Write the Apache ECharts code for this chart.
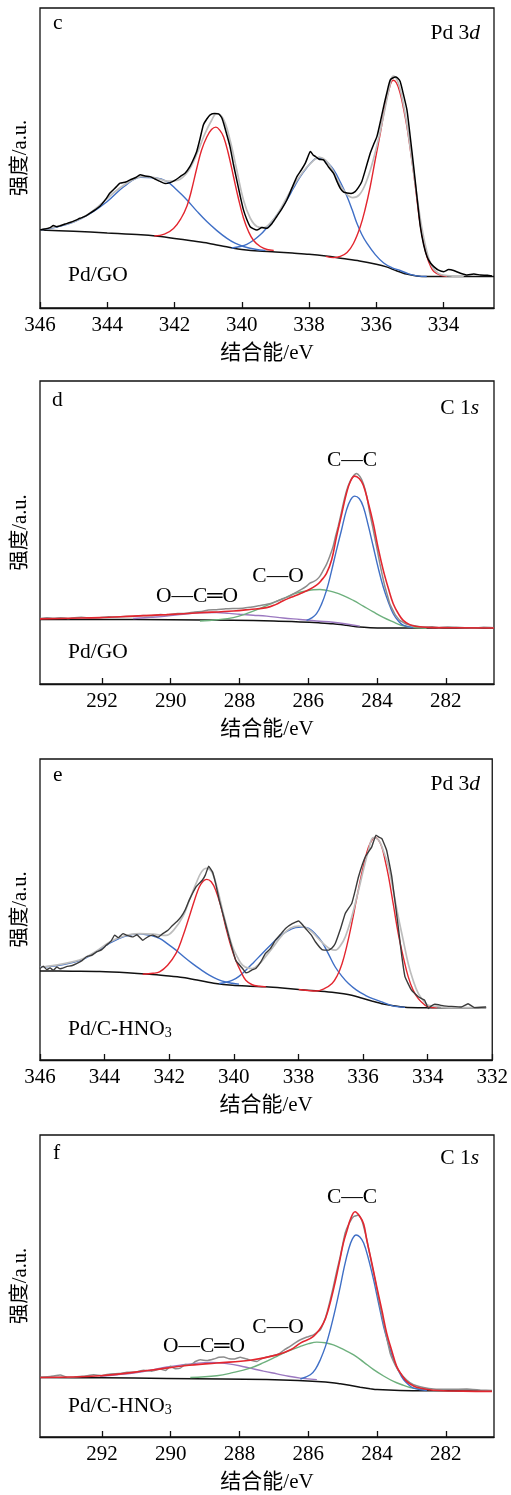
<!DOCTYPE html>
<html>
<head>
<meta charset="utf-8">
<script src="https://cdn.jsdelivr.net/npm/echarts@6/dist/echarts.min.js"></script>
<style>html,body{margin:0;padding:0;background:#fff}#chart{width:511px;height:1495px}</style>
</head>
<body>
<div id="chart"></div>
<script>
// ---------- tick labels ----------
const pdTicksC = [334, 336, 338, 340, 342, 344, 346];
const pdTicksE = [332, 334, 336, 338, 340, 342, 344, 346];
const cTicks = [282, 284, 286, 288, 290, 292];

// ---------- panel c: Pd/GO, Pd 3d ----------
const cRaw = [[346,26.0],[345.85,26.3],[345.7,26.8],[345.6,27.5],[345.5,27.1],[345.4,27.4],[345.25,28.0],[345.11,28.5],[344.95,29.2],[344.81,29.9],[344.65,30.6],[344.51,31.6],[344.35,32.8],[344.21,34.0],[344.05,36.2],[343.92,38.3],[343.75,40.2],[343.62,41.6],[343.45,42.0],[343.32,42.7],[343.15,43.5],[343.02,44.4],[342.88,44.0],[342.73,43.8],[342.58,43.0],[342.43,42.2],[342.28,41.5],[342.13,41.8],[341.98,42.6],[341.83,43.8],[341.68,45.0],[341.54,47.2],[341.44,49.5],[341.34,52.2],[341.24,56.5],[341.14,61.1],[341.04,63.0],[340.94,64.4],[340.8,64.8],[340.69,64.7],[340.6,63.5],[340.54,61.6],[340.45,58.0],[340.35,53.8],[340.25,48.0],[340.15,42.7],[340.05,37.5],[339.95,32.7],[339.85,29.5],[339.75,27.1],[339.65,26.4],[339.55,26.0],[339.4,26.8],[339.25,26.6],[339.1,28.2],[338.96,30.5],[338.8,33.2],[338.66,36.0],[338.5,40.2],[338.36,43.8],[338.23,46.0],[338.11,48.3],[338.03,50.5],[337.96,52.2],[337.88,51.0],[337.81,50.5],[337.7,49.6],[337.57,49.4],[337.42,47.0],[337.27,44.9],[337.17,42.2],[337.07,39.9],[336.97,38.6],[336.87,38.3],[336.75,38.2],[336.63,38.8],[336.53,40.2],[336.43,42.2],[336.3,47.0],[336.18,51.6],[336.08,54.5],[335.98,57.2],[335.88,62.0],[335.78,67.2],[335.68,72.0],[335.58,76.1],[335.43,77.0],[335.36,76.6],[335.29,75.5],[335.2,71.5],[335.09,66.1],[334.99,57.0],[334.89,47.2],[334.79,37.0],[334.69,27.1],[334.59,21.0],[334.49,17.1],[334.39,15.0],[334.29,13.8],[334.15,12.6],[333.99,12.1],[333.85,12.8],[333.7,12.5],[333.5,11.6],[333.3,11.0],[333.1,11.3],[332.9,11.0],[332.7,10.9],[332.56,10.7]];
const cEnv = [[346,26.0],[345.5,27.2],[345,28.8],[344.6,31.0],[344.2,34.5],[343.8,38.5],[343.5,41.0],[343.2,43.0],[343.0,43.8],[342.6,43.5],[342.2,42.3],[341.9,42.6],[341.6,45.5],[341.35,51],[341.1,58],[340.9,62.5],[340.75,64.8],[340.55,63],[340.35,56],[340.15,46],[339.95,36],[339.75,30],[339.55,27.2],[339.35,26.8],[339.1,29],[338.9,32],[338.7,36],[338.5,40],[338.3,43.5],[338.1,46.5],[337.9,48.8],[337.7,50.3],[337.5,49.2],[337.3,46],[337.1,41.5],[336.9,38.2],[336.7,36.8],[336.5,37.8],[336.3,42],[336.1,49],[335.9,58],[335.75,66],[335.6,74],[335.5,77.3],[335.38,76],[335.25,71],[335.1,62],[334.95,50],[334.8,38],[334.65,27],[334.5,19],[334.35,14],[334.15,11.5],[333.9,10.8],[333.4,10.5]];
const cRed1 = [[342.6,24.0],[342.3,24.6],[342.03,26.5],[341.8,30.0],[341.63,34.0],[341.5,39],[341.34,46.5],[341.2,52.5],[341.04,57.0],[340.9,59.5],[340.77,60.3],[340.65,59.2],[340.54,57.0],[340.4,51.5],[340.25,44.0],[340.1,36.5],[339.95,30.0],[339.8,25.5],[339.65,22.5],[339.45,20.5],[339.25,19.5],[339.05,19.2]];
const cRed2 = [[337.5,17.2],[337.27,16.8],[337.07,17.2],[336.87,18.5],[336.68,21.5],[336.48,27.0],[336.33,33.0],[336.18,40.5],[336.03,49.5],[335.88,58.3],[335.75,66.5],[335.63,72.5],[335.50,75.9],[335.4,75.0],[335.29,71.6],[335.19,66.5],[335.09,60.5],[334.99,53.0],[334.89,45.0],[334.79,36.0],[334.69,27.5],[334.59,21.5],[334.49,17.0],[334.39,14.0],[334.29,12.2],[334.1,11.0],[333.9,10.6]];
const cBlue1 = [[346,26.0],[345.5,27.0],[345,28.6],[344.5,31.5],[344,35.5],[343.5,40.5],[343.0,43.6],[342.6,43.4],[342.23,42.2],[341.93,39.3],[341.63,36.0],[341.33,32.2],[341.04,28.8],[340.74,25.8],[340.44,23.2],[340.2,21.6],[339.95,20.5],[339.6,19.6],[339.3,19.2]];
const cBlue2 = [[340.3,20.0],[340.05,20.5],[339.85,21.2],[339.65,22.6],[339.45,24.4],[339.25,26.8],[339.06,29.4],[338.86,32.5],[338.66,36.0],[338.46,40.0],[338.26,43.8],[338.05,47.0],[337.9,48.9],[337.77,49.9],[337.6,49.6],[337.45,48.5],[337.27,46.1],[337.07,42.0],[336.87,37.2],[336.72,32.8],[336.58,28.3],[336.43,24.5],[336.28,21.6],[336.03,17.8],[335.78,15.0],[335.53,13.4],[335.29,12.5],[335.04,11.4],[334.79,10.7],[334.5,10.5]];
const cBg = [[346,26.0],[345,25.6],[344,25.0],[343,24.4],[342.5,23.9],[342,23.2],[341.5,22.4],[341,21.6],[340.5,20.5],[340.2,19.8],[340,19.5],[339.5,19.0],[339,18.7],[338.5,18.3],[338,17.9],[337.5,17.3],[337,16.5],[336.5,15.7],[336,14.6],[335.7,13.7],[335.4,12.4],[335.1,11.3],[334.8,10.7],[334.5,10.5],[333.5,10.5],[332.5,10.5]];

// ---------- panel d: Pd/GO, C 1s ----------
const dRaw = [[293.8,21.6],[293.6,21.9],[293.4,21.7],[293.2,21.9],[293.0,21.6],[292.8,21.9],[292.6,22.0],[292.3,21.8],[292.06,21.9],[291.8,22.2],[291.6,22.1],[291.3,22.3],[291.1,22.3],[290.8,22.6],[290.6,22.5],[290.3,22.9],[290.12,22.8],[289.8,23.3],[289.6,23.3],[289.3,23.8],[289.1,23.9],[288.9,24.4],[288.67,24.5],[288.4,24.8],[288.2,24.9],[287.9,25.0],[287.7,25.3],[287.45,25.8],[287.2,26.3],[286.95,27.2],[286.73,28.2],[286.55,29.0],[286.4,30.0],[286.2,31.2],[286.05,32.3],[285.95,33.3],[285.85,33.8],[285.75,34.5],[285.66,35.6],[285.57,37.4],[285.47,39.5],[285.38,42.0],[285.28,45.3],[285.2,49],[285.13,52],[285.05,56],[284.98,59.6],[284.88,64],[284.79,66.7],[284.7,68.5],[284.6,69.5],[284.5,68.5],[284.4,66.2],[284.3,62],[284.21,56.3],[284.13,52],[284.06,48],[283.99,44],[283.92,39.8],[283.85,36],[283.78,32.5],[283.7,29.3],[283.63,26.5],[283.55,24.6],[283.48,23],[283.4,21.8],[283.34,21.0],[283.25,20.4],[283.15,19.8],[283.05,19.5],[282.95,19.3],[282.8,19.0],[282.6,18.8],[282.4,18.9],[282.2,18.6],[281.95,18.8],[281.7,18.7],[281.45,18.6],[281.2,18.5],[280.9,18.7],[280.6,18.6]];
const dEnv = [[293.8,21.5],[292.9,21.7],[292.06,21.9],[291.1,22.4],[290.12,22.9],[289.15,23.5],[288.18,24.1],[287.7,24.6],[287.21,25.2],[286.95,26.2],[286.73,27.5],[286.5,28.6],[286.24,29.8],[286.0,31.0],[285.76,32.6],[285.62,34.2],[285.47,36.5],[285.32,41],[285.18,48.6],[285.03,56],[284.89,62.9],[284.77,67],[284.65,68.6],[284.52,67.8],[284.40,65.6],[284.26,60],[284.11,53.0],[283.97,45],[283.82,37.6],[283.67,31.5],[283.53,26.5],[283.38,23.2],[283.24,21.0],[283.05,19.6],[282.85,19.0],[282.37,18.6],[280.6,18.5]];
const dCC = [[286.05,21.0],[285.9,21.8],[285.76,23.2],[285.62,26.2],[285.47,30.9],[285.33,37.0],[285.18,44.2],[285.03,51.0],[284.89,57.4],[284.77,60.8],[284.65,62.0],[284.52,61.2],[284.40,58.5],[284.26,52.5],[284.11,45.3],[283.97,38.5],[283.82,32.0],[283.67,27.0],[283.53,23.2],[283.38,20.8],[283.24,19.4],[282.95,18.6]];
const dCO = [[289.15,20.8],[288.66,21.2],[288.18,21.9],[287.8,23.2],[287.41,24.9],[287.02,26.8],[286.63,28.7],[286.34,30.0],[286.05,30.7],[285.85,31.1],[285.66,31.2],[285.47,30.9],[285.28,30.4],[284.98,29.2],[284.69,27.6],[284.4,25.7],[284.11,23.8],[283.82,22.0],[283.53,20.5],[283.3,19.4],[283.05,18.8],[282.56,18.4]];
const dOCO = [[291.09,21.6],[290.6,22.0],[290.12,22.4],[289.64,23.0],[289.15,23.5],[288.67,23.6],[288.3,23.3],[287.99,23.0],[287.6,22.7],[287.21,22.4],[286.73,21.8],[286.24,21.3],[285.76,20.8],[285.28,20.4],[284.89,19.8],[284.50,19.1]];
const dBg = [[293.8,21.3],[292,21.3],[290,21.2],[288.18,21.0],[287,20.8],[286.24,20.5],[285.7,20.2],[285.28,19.9],[284.9,19.4],[284.5,18.8],[284.2,18.6],[283.82,18.5],[282.5,18.5],[280.6,18.5]];

// ---------- panel e: Pd/C-HNO3, Pd 3d ----------
const eRaw = [[346,30.4],[345.9,31.2],[345.79,30.0],[345.69,30.6],[345.59,29.8],[345.48,30.9],[345.38,30.3],[345.18,31.0],[345.0,31.4],[344.87,32.0],[344.7,33.0],[344.56,34.3],[344.4,34.8],[344.25,35.9],[344.1,36.6],[343.95,38.1],[343.8,39.5],[343.69,41.5],[343.58,40.6],[343.43,42.0],[343.3,41.4],[343.12,40.9],[343.0,41.6],[342.82,39.8],[342.65,41.0],[342.51,41.5],[342.35,40.8],[342.20,42.0],[342.05,43.0],[341.89,44.8],[341.76,46.0],[341.63,47.6],[341.5,50.0],[341.38,53.1],[341.17,57.5],[340.97,59.8],[340.88,61.5],[340.78,64.4],[340.66,62.5],[340.56,58.5],[340.45,53.1],[340.3,47],[340.15,40.9],[339.94,33.1],[339.73,30.4],[339.63,29.0],[339.53,29.3],[339.42,30.0],[339.32,30.4],[339.17,32.5],[339.02,35.4],[338.87,37.0],[338.71,39.8],[338.55,41.8],[338.40,43.7],[338.19,45.3],[337.99,46.2],[337.88,45.0],[337.78,43.7],[337.6,41.5],[337.47,39.2],[337.27,36.7],[337.06,36.5],[336.96,37.2],[336.86,38.7],[336.7,43.5],[336.55,48.7],[336.35,52.0],[336.25,56.0],[336.14,60.9],[335.93,67.5],[335.73,70.8],[335.6,74.7],[335.5,74.0],[335.42,73.6],[335.27,69.7],[335.11,60.9],[334.91,44.2],[334.8,34.5],[334.70,27.6],[334.50,23.2],[334.29,21.0],[334.09,19.8],[333.98,17.1],[333.88,18.0],[333.78,18.5],[333.5,18.0],[333.26,17.8],[332.96,17.6],[332.75,18.7],[332.55,17.4],[332.19,17.6]];
const eEnv = [[346,30.8],[345.5,31.5],[345,32.6],[344.66,33.7],[344.25,36.2],[343.84,39.2],[343.4,41.2],[342.92,42.0],[342.5,41.8],[342.10,41.4],[341.85,43.3],[341.58,47.6],[341.38,53],[341.17,58.6],[341.0,62.5],[340.85,63.7],[340.66,62.0],[340.5,56.5],[340.35,49.8],[340.2,43.5],[340.04,37.6],[339.88,34.0],[339.73,31.5],[339.55,30.5],[339.43,30.4],[339.2,32.0],[339.02,34.3],[338.75,38.0],[338.50,41.5],[338.25,43.8],[337.99,44.5],[337.78,44.0],[337.58,42.6],[337.37,40.2],[337.17,38.1],[337.0,36.8],[336.86,36.5],[336.7,38.0],[336.55,40.9],[336.35,47.5],[336.14,56.4],[335.98,63.5],[335.83,69.7],[335.68,73.9],[335.52,73.1],[335.37,69.5],[335.21,64.2],[335.06,56],[334.91,47.6],[334.75,39.5],[334.60,32.0],[334.45,26.5],[334.29,22.1],[334.1,19.2],[333.98,18.2],[333.6,17.6],[333.37,17.4],[332.19,17.4]];
const eRed1 = [[342.82,28.5],[342.5,28.8],[342.30,29.3],[342.05,31.5],[341.79,35.4],[341.58,41],[341.38,47.6],[341.22,53],[341.07,57.5],[340.95,59.4],[340.84,60.0],[340.7,59.2],[340.56,56.4],[340.4,51],[340.25,44.2],[340.1,38.2],[339.94,33.1],[339.78,29.3],[339.63,26.5],[339.43,25.0],[339.22,24.5],[339.0,24.3]];
const eRed2 = [[337.99,23.4],[337.7,23.1],[337.47,22.9],[337.2,23.7],[336.96,25.4],[336.8,28.0],[336.65,32.0],[336.5,38.0],[336.35,45.3],[336.2,53.5],[336.04,62.0],[335.93,67.0],[335.83,70.8],[335.73,73.0],[335.65,73.9],[335.53,73.2],[335.42,70.8],[335.32,66.5],[335.21,60.9],[335.06,51.5],[334.91,42.0],[334.75,34.0],[334.60,27.6],[334.45,23.2],[334.29,20.4],[334.1,18.4],[333.98,17.6],[333.7,17.4]];
const eBlue1 = [[346,30.8],[345.5,31.3],[345,32.4],[344.66,33.5],[344.25,36.0],[343.84,38.8],[343.4,41.0],[342.92,41.9],[342.82,41.8],[342.55,41.3],[342.30,40.4],[342.05,38.6],[341.79,36.5],[341.54,34.2],[341.28,32.0],[341.02,30.0],[340.76,28.2],[340.5,26.8],[340.25,25.9],[340.04,25.5],[339.84,25.2]];
const eBlue2 = [[340.45,25.4],[340.25,25.8],[340.04,26.5],[339.84,27.8],[339.63,29.8],[339.38,32.5],[339.12,35.4],[338.86,38.2],[338.60,40.9],[338.35,42.8],[338.09,44.0],[337.88,44.2],[337.68,43.7],[337.47,41.8],[337.27,39.2],[337.06,35.0],[336.86,30.9],[336.65,27.8],[336.45,25.4],[336.2,23.2],[335.93,21.5],[335.68,20.3],[335.42,19.3],[335.2,18.4],[335.01,17.8],[334.7,17.5]];
const eBg = [[346,29.6],[345,29.5],[344.15,29.4],[343.3,29.0],[342.61,28.5],[342.1,28.0],[341.58,27.4],[341.1,26.5],[340.56,25.4],[340.04,24.8],[339.5,24.5],[339.02,24.3],[338.5,23.9],[337.99,23.4],[337.47,23.0],[336.96,22.5],[336.6,22.0],[336.35,21.5],[336.05,20.6],[335.73,19.6],[335.42,18.7],[335.11,18.1],[334.70,17.5],[334.3,17.4],[333.88,17.4],[332.19,17.4]];

// ---------- panel f: Pd/C-HNO3, C 1s ----------
const fRaw = [[293.79,19.8],[293.5,20.0],[293.21,20.5],[293.0,19.8],[292.8,19.9],[292.5,20.2],[292.24,20.6],[292.0,20.3],[291.76,20.9],[291.5,21.0],[291.27,21.4],[291.0,21.5],[290.79,22.1],[290.55,21.8],[290.30,22.5],[290.15,22.0],[290.01,23.4],[289.86,22.6],[289.72,22.8],[289.58,24.0],[289.43,23.9],[289.28,25.0],[289.14,25.6],[288.95,25.3],[288.75,25.8],[288.6,26.4],[288.46,26.5],[288.3,25.9],[288.17,25.8],[287.98,26.4],[287.78,25.8],[287.64,25.3],[287.49,25.0],[287.35,26.0],[287.20,26.5],[287.0,27.0],[286.82,27.8],[286.68,29.0],[286.53,30.0],[286.38,31.2],[286.23,32.2],[286.04,33.1],[285.85,33.8],[285.65,35.5],[285.55,38.0],[285.46,41.0],[285.37,45],[285.27,49.8],[285.17,55],[285.07,59.8],[284.93,67.5],[284.8,71.0],[284.68,73.0],[284.54,73.5],[284.46,72.2],[284.39,69.7],[284.3,65.5],[284.20,59.8],[284.05,51.5],[283.91,43.2],[283.76,35],[283.62,27.8],[283.47,23.8],[283.33,21.2],[283.13,18.8],[282.94,17.3],[282.65,16.4],[282.36,15.9],[281.9,15.8],[281.39,15.9],[281.0,15.6],[280.66,15.4]];
const fEnv = [[293.79,19.7],[292.05,20.3],[290.6,22.1],[289.6,23.6],[288.66,24.5],[287.69,25.4],[286.91,27.2],[286.5,29.0],[286.23,31.1],[285.85,33.3],[285.56,37.7],[285.41,42.5],[285.27,48.7],[285.12,56.5],[284.98,64.2],[284.87,68.5],[284.78,71.9],[284.64,74.6],[284.5,73.0],[284.39,70.5],[284.3,65.3],[284.15,57.5],[284.01,49.8],[283.86,42],[283.72,34.4],[283.57,28.5],[283.43,23.4],[283.28,20.5],[283.14,18.4],[282.94,16.9],[282.75,16.2],[282.36,15.5],[281.5,15.2],[280.66,15.1]];
const fCC = [[286.23,19.2],[285.94,20.6],[285.79,22.5],[285.65,25.6],[285.5,30.0],[285.36,35.5],[285.21,42.5],[285.07,49.8],[284.95,56.5],[284.83,62.0],[284.72,65.5],[284.61,66.9],[284.5,66.2],[284.39,64.2],[284.25,59],[284.10,52.0],[283.96,44.5],[283.81,36.6],[283.66,30.5],[283.52,25.6],[283.37,21.8],[283.23,19.0],[283.08,17.3],[282.94,16.2],[282.55,15.4]];
const fCO = [[289.43,19.7],[288.66,20.3],[288.2,21.3],[287.69,22.8],[287.3,24.6],[286.91,26.7],[286.57,28.5],[286.23,30.0],[285.99,30.9],[285.75,31.4],[285.51,31.2],[285.27,30.5],[284.98,29.0],[284.68,27.2],[284.39,24.8],[284.10,22.3],[283.81,20.2],[283.52,18.4],[283.28,17.3],[283.04,16.4],[282.75,15.9],[282.46,15.7]];
const fOCO = [[292.05,20.1],[291.56,20.6],[291.08,21.2],[290.6,22.1],[290.11,23.2],[289.72,23.8],[289.34,24.3],[288.85,24.7],[288.6,24.6],[288.37,24.3],[288.0,23.6],[287.69,22.8],[287.3,21.8],[286.91,20.9],[286.57,20.1],[286.23,19.5],[285.75,19.0]];
const fBg = [[293.79,19.7],[292,19.6],[290.11,19.4],[288.5,19.2],[287.2,19.0],[286.3,18.7],[285.75,18.4],[285.3,18.0],[285.07,17.6],[284.8,17.1],[284.49,16.5],[284.2,16.0],[284.0,15.7],[283.33,15.4],[282,15.3],[280.66,15.2]];

// ---------- style ----------
const SERIF = '"Liberation Serif", "Times New Roman", "Noto Sans CJK SC", serif';
const CJK = '"Liberation Serif", "Noto Sans CJK SC", serif';
const RED = '#e3262f', BLUE = '#3f6fc6', GREEN = '#6db07d', PURPLE = '#9b78c0', ENV = '#bdbdbd';
const FS = 21.5;

const grids = [
  {left: 40, right: 17, top: 8, height: 300},
  {left: 40, right: 17, top: 381, height: 303},
  {left: 40, right: 17, top: 759, height: 301},
  {left: 40, right: 17, top: 1135, height: 302}
].map(g => Object.assign(g, {show: true, borderColor: '#111', borderWidth: 1.3, containLabel: false}));

function xAx(i, min, max, ticks) {
  return {
    gridIndex: i, type: 'value', inverse: true, min: min, max: max,
    axisLine: {show: true, onZero: false, lineStyle: {color: '#111', width: 1.3}},
    axisTick: {show: true, inside: true, length: 6, customValues: ticks, lineStyle: {color: '#111', width: 1.3}},
    axisLabel: {show: true, customValues: ticks, margin: 7, fontSize: 21, fontFamily: SERIF, color: '#000'},
    splitLine: {show: false},
    name: '结合能/eV', nameLocation: 'middle', nameGap: 35,
    nameTextStyle: {fontSize: 21, fontFamily: CJK, color: '#000'}
  };
}
function yAx(i) {
  return {
    gridIndex: i, type: 'value', min: 0, max: 100,
    axisLine: {show: false}, axisTick: {show: false}, axisLabel: {show: false}, splitLine: {show: false},
    name: '强度/a.u.', nameLocation: 'middle', nameGap: 9,
    nameTextStyle: {fontSize: 20.5, fontFamily: CJK, color: '#000'}
  };
}
function ln(i, data, color, width, smooth) {
  return {
    type: 'line', xAxisIndex: i, yAxisIndex: i, data: data, showSymbol: false, silent: true,
    smooth: smooth, lineStyle: {color: color, width: width}, animation: false, clip: true
  };
}

const series = [
  // c
  ln(0, cBg, '#111', 1.5, 0.3), ln(0, cBlue1, BLUE, 1.4, 0.4), ln(0, cBlue2, BLUE, 1.4, 0.4),
  ln(0, cRed1, RED, 1.4, 0.4), ln(0, cRed2, RED, 1.4, 0.4), ln(0, cEnv, ENV, 1.7, 0.4), ln(0, cRaw, '#000', 1.5, 0.2),
  // d
  ln(1, dBg, '#111', 1.5, 0.3), ln(1, dOCO, PURPLE, 1.4, 0.4), ln(1, dCO, GREEN, 1.4, 0.4), ln(1, dCC, BLUE, 1.4, 0.4),
  ln(1, dRaw, '#8c8c8c', 1.5, 0.2), ln(1, dEnv, RED, 1.6, 0.4),
  // e
  ln(2, eBg, '#111', 1.5, 0.3), ln(2, eBlue1, BLUE, 1.4, 0.4), ln(2, eBlue2, BLUE, 1.4, 0.4),
  ln(2, eRed1, RED, 1.4, 0.4), ln(2, eRed2, RED, 1.4, 0.4), ln(2, eEnv, ENV, 1.7, 0.4), ln(2, eRaw, '#3a3a3a', 1.4, 0.1),
  // f
  ln(3, fBg, '#111', 1.5, 0.3), ln(3, fOCO, PURPLE, 1.4, 0.4), ln(3, fCO, GREEN, 1.4, 0.4), ln(3, fCC, BLUE, 1.4, 0.4),
  ln(3, fRaw, '#8c8c8c', 1.5, 0.1), ln(3, fEnv, RED, 1.6, 0.4)
];

function txt(x, y, text, align, rich) {
  return {
    type: 'text', x: x, y: y, silent: true, z: 100,
    style: {text: text, align: align || 'left', verticalAlign: 'middle', fill: '#000',
      font: FS + 'px ' + SERIF, rich: rich}
  };
}
const richBase = {
  a: {fontSize: FS, fontFamily: SERIF, color: '#000', lineHeight: 21},
  i: {fontSize: FS, fontFamily: SERIF, fontStyle: 'italic', color: '#000', lineHeight: 21},
  s: {fontSize: 14, fontFamily: SERIF, color: '#000', lineHeight: 14, padding: [8, 0, 0, 0]}
};
const graphic = [
  txt(53, 23, 'c'), txt(480, 33, '{a|Pd 3}{i|d}', 'right', richBase), txt(68, 275, 'Pd/GO'),
  txt(52, 400, 'd'), txt(479, 408, '{a|C 1}{i|s}', 'right', richBase), txt(68, 652, 'Pd/GO'),
  txt(352, 460, 'C\u2014C', 'center'), txt(278, 576, 'C\u2014O', 'center'), txt(197, 596, 'O\u2014C\u2550O', 'center'),
  txt(53, 775, 'e'), txt(480, 784, '{a|Pd 3}{i|d}', 'right', richBase), txt(68, 1029, '{a|Pd/C-HNO}{s|3}', 'left', richBase),
  txt(53, 1153, 'f'), txt(479, 1158, '{a|C 1}{i|s}', 'right', richBase), txt(68, 1406, '{a|Pd/C-HNO}{s|3}', 'left', richBase),
  txt(352, 1197, 'C\u2014C', 'center'), txt(278, 1327, 'C\u2014O', 'center'), txt(204, 1346, 'O\u2014C\u2550O', 'center')
];

const chart = echarts.init(document.getElementById('chart'), null, {renderer: 'canvas'});
chart.setOption({
  animation: false,
  backgroundColor: '#fff',
  grid: grids,
  xAxis: [xAx(0, 332.5, 346, pdTicksC), xAx(1, 280.6, 293.8, cTicks), xAx(2, 332, 346, pdTicksE), xAx(3, 280.6, 293.8, cTicks)],
  yAxis: [yAx(0), yAx(1), yAx(2), yAx(3)],
  series: series,
  graphic: graphic
});
</script>
</body>
</html>
